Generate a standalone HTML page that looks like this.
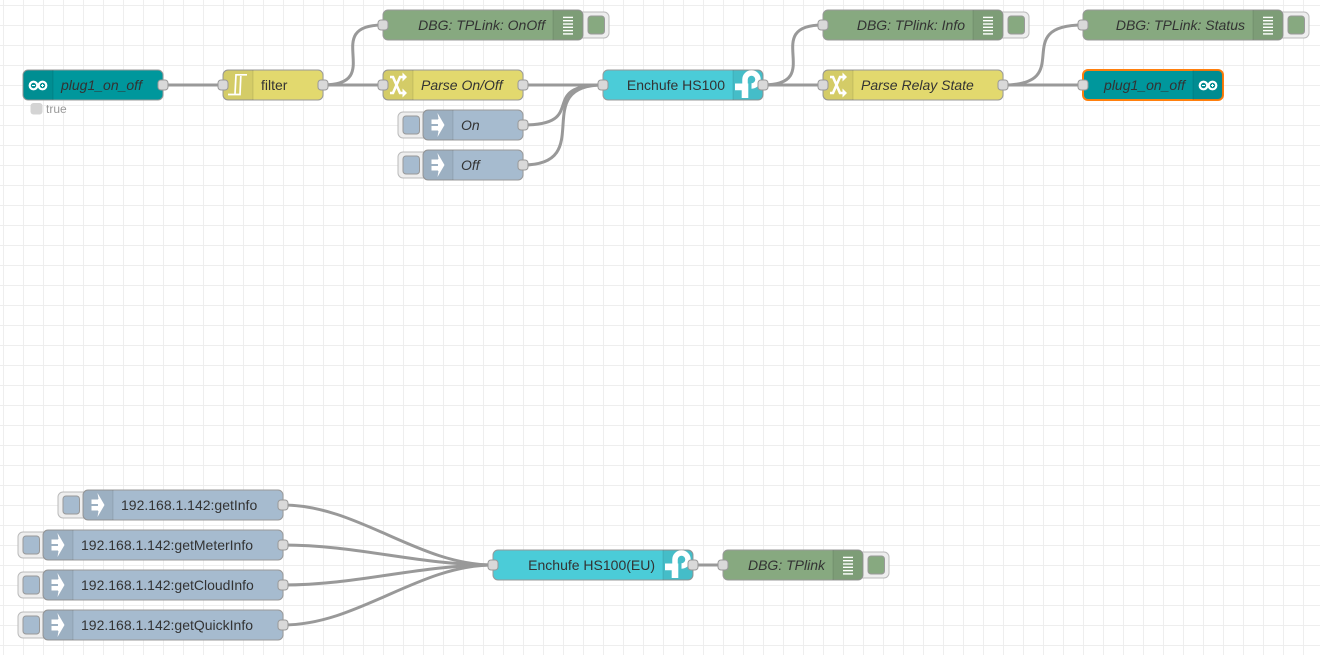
<!DOCTYPE html>
<html>
<head>
<meta charset="utf-8">
<style>
html,body{margin:0;padding:0;width:1320px;height:655px;overflow:hidden;background-color:#fff;
background-image:linear-gradient(#eee 1px,transparent 1px),linear-gradient(90deg,#eee 1px,transparent 1px);
background-size:20px 20px;background-position:0 5px,3px 0;}
svg{position:absolute;left:0;top:0;display:block}
text{font-family:"Liberation Sans",sans-serif;font-size:14px;fill:#333}
.i{font-style:italic}
.e{text-anchor:end}
.w{fill:none;stroke:#999;stroke-width:3}
.n{stroke:#999;stroke-width:1}
.p{fill:#d9d9d9;stroke:#999;stroke-width:1}
.b{fill:#eee;stroke:#bbb;stroke-width:1}
.ib{stroke:#999;stroke-width:1}
</style>
</head>
<body>
<svg width="1320" height="655" viewBox="0 0 1320 655" xmlns="http://www.w3.org/2000/svg">
<defs>
<g id="cl"><path d="M5 0H30V30H5A5 5 0 0 1 0 25V5A5 5 0 0 1 5 0Z" fill="#000" fill-opacity=".06"/><path d="M30 0V30" stroke="#000" stroke-opacity=".1"/></g>
<g id="cr"><path d="M-30 0H-5A5 5 0 0 1 0 5V25A5 5 0 0 1 -5 30H-30Z" fill="#000" fill-opacity=".07"/><path d="M-30 0V30" stroke="#000" stroke-opacity=".1"/></g>
<g id="inj" fill="#fff"><rect x="8.500" y="9.500" width="7" height="4.500"/><rect x="8.500" y="16" width="7" height="4.500"/><path d="M14.500 3L21.500 15L14.500 27L16.500 15Z"/><path d="M15 9H17.500V21H15Z"/></g>
<g id="fn" fill="none" stroke="#fff" stroke-width="2.600"><path d="M7 7H10L17 23H20"/><path d="M7 23H10L17 7H20"/><path d="M19.500 2.500L24 7L19.500 11.500Z" fill="#fff" stroke="none"/><path d="M19.500 18.500L24 23L19.500 27.500Z" fill="#fff" stroke="none"/></g>
<g id="flt" fill="none" stroke="#fff" stroke-width="1.700"><path d="M5 24.500H17L17.800 6"/><path d="M12 24L13 4.800H24"/></g>
<g id="ard" fill="none" stroke="#fff" stroke-width="2.200"><circle cx="10.500" cy="15.500" r="3.800"/><circle cx="19.500" cy="15.500" r="3.800"/><path d="M9 15.500H12M18 15.500H21M19.500 14V17" stroke-width="1"/></g>
<g id="dbg" fill="#fff"><rect x="-20" y="6.700" width="10" height="1.400"/><rect x="-20" y="10" width="10" height="1.400"/><rect x="-20" y="13.300" width="10" height="1.400"/><rect x="-20" y="16.600" width="10" height="1.400"/><rect x="-20" y="19.900" width="10" height="1.400"/><rect x="-20" y="23.200" width="10" height="1.400"/></g>
<g id="tp"><path d="M12 14V9.500A6.500 6.500 0 1 1 18.500 16" fill="none" stroke="#fff" stroke-width="5.500"/><path d="M2 13.500H15.300V28H8.700V20.300H2Z" fill="#fff"/></g>
</defs>

<!-- wires -->
<g class="w">
<path d="M163 85H223"/>
<path d="M323 85C386.750 85 319.250 25 383 25"/>
<path d="M323 85H383"/>
<path d="M523 85H603"/>
<path d="M523 125C590 125 536 85 603 85"/>
<path d="M523 165C598 165 528 85 603 85"/>
<path d="M763 85C826.750 85 759.250 25 823 25"/>
<path d="M763 85H823"/>
<path d="M1003 85C1078 85 1008 25 1083 25"/>
<path d="M1003 85H1083"/>
<path d="M283 505C358 505 418 565 493 565"/>
<path d="M283 545C358 545 418 565 493 565"/>
<path d="M283 585C358 585 418 565 493 565"/>
<path d="M283 625C358 625 418 565 493 565"/>
<path d="M693 565H723"/>
</g>

<!-- plug1_on_off in -->
<g transform="translate(23 70)"><rect class="n" width="140" height="30" rx="5" fill="#00979c"/><use href="#cl"/><use href="#ard"/><text class="i" x="38" y="20">plug1_on_off</text></g>
<rect x="30.500" y="103" width="12" height="11.500" rx="3" fill="#d4d4d4"/>
<text x="46" y="113" style="font-size:12px;fill:#999">true</text>

<!-- filter -->
<g transform="translate(223 70)"><rect class="n" width="100" height="30" rx="5" fill="#e2d96e"/><use href="#cl"/><use href="#flt"/><text x="38" y="20">filter</text></g>

<!-- DBG OnOff -->
<rect class="b" x="570" y="12" width="39" height="26" rx="5"/><rect class="ib" x="588" y="16" width="16.500" height="18" rx="3" fill="#87a980"/>
<g transform="translate(383 10)"><rect class="n" width="200" height="30" rx="5" fill="#87a980"/><use href="#cr" x="200"/><use href="#dbg" x="200"/><text class="i e" x="162" y="20">DBG: TPLink: OnOff</text></g>

<!-- Parse On/Off -->
<g transform="translate(383 70)"><rect class="n" width="140" height="30" rx="5" fill="#e2d96e"/><use href="#cl"/><use href="#fn"/><text class="i" x="38" y="20">Parse On/Off</text></g>

<!-- On -->
<rect class="b" x="398" y="112" width="39" height="26" rx="5"/><rect class="ib" x="403" y="116" width="16.500" height="18" rx="3" fill="#a6bbcf"/>
<g transform="translate(423 110)"><rect class="n" width="100" height="30" rx="5" fill="#a6bbcf"/><use href="#cl"/><use href="#inj"/><text class="i" x="38" y="20">On</text></g>

<!-- Off -->
<rect class="b" x="398" y="152" width="39" height="26" rx="5"/><rect class="ib" x="403" y="156" width="16.500" height="18" rx="3" fill="#a6bbcf"/>
<g transform="translate(423 150)"><rect class="n" width="100" height="30" rx="5" fill="#a6bbcf"/><use href="#cl"/><use href="#inj"/><text class="i" x="38" y="20">Off</text></g>

<!-- Enchufe HS100 -->
<g transform="translate(603 70)"><rect class="n" width="160" height="30" rx="5" fill="#4bccd8"/><use href="#cr" x="160"/><use href="#tp" x="130"/><text class="e" x="122" y="20">Enchufe HS100</text></g>

<!-- DBG Info -->
<rect class="b" x="990" y="12" width="39" height="26" rx="5"/><rect class="ib" x="1008" y="16" width="16.500" height="18" rx="3" fill="#87a980"/>
<g transform="translate(823 10)"><rect class="n" width="180" height="30" rx="5" fill="#87a980"/><use href="#cr" x="180"/><use href="#dbg" x="180"/><text class="i e" x="142" y="20">DBG: TPlink: Info</text></g>

<!-- Parse Relay State -->
<g transform="translate(823 70)"><rect class="n" width="180" height="30" rx="5" fill="#e2d96e"/><use href="#cl"/><use href="#fn"/><text class="i" x="38" y="20">Parse Relay State</text></g>

<!-- DBG Status -->
<rect class="b" x="1270" y="12" width="39" height="26" rx="5"/><rect class="ib" x="1288" y="16" width="16.500" height="18" rx="3" fill="#87a980"/>
<g transform="translate(1083 10)"><rect class="n" width="200" height="30" rx="5" fill="#87a980"/><use href="#cr" x="200"/><use href="#dbg" x="200"/><text class="i e" x="162" y="20">DBG: TPLink: Status</text></g>

<!-- plug1_on_off out -->
<g transform="translate(1083 70)"><rect width="140" height="30" rx="5" fill="#00979c" stroke="#ff7f0e" stroke-width="2"/><use href="#cr" x="140"/><use href="#ard" x="110"/><text class="i e" x="102" y="20">plug1_on_off</text></g>

<!-- injects bottom -->
<rect class="b" x="58" y="492" width="39" height="26" rx="5"/><rect class="ib" x="63" y="496" width="16.500" height="18" rx="3" fill="#a6bbcf"/>
<g transform="translate(83 490)"><rect class="n" width="200" height="30" rx="5" fill="#a6bbcf"/><use href="#cl"/><use href="#inj"/><text x="38" y="20">192.168.1.142:getInfo</text></g>

<rect class="b" x="18" y="532" width="39" height="26" rx="5"/><rect class="ib" x="23" y="536" width="16.500" height="18" rx="3" fill="#a6bbcf"/>
<g transform="translate(43 530)"><rect class="n" width="240" height="30" rx="5" fill="#a6bbcf"/><use href="#cl"/><use href="#inj"/><text x="38" y="20">192.168.1.142:getMeterInfo</text></g>

<rect class="b" x="18" y="572" width="39" height="26" rx="5"/><rect class="ib" x="23" y="576" width="16.500" height="18" rx="3" fill="#a6bbcf"/>
<g transform="translate(43 570)"><rect class="n" width="240" height="30" rx="5" fill="#a6bbcf"/><use href="#cl"/><use href="#inj"/><text x="38" y="20">192.168.1.142:getCloudInfo</text></g>

<rect class="b" x="18" y="612" width="39" height="26" rx="5"/><rect class="ib" x="23" y="616" width="16.500" height="18" rx="3" fill="#a6bbcf"/>
<g transform="translate(43 610)"><rect class="n" width="240" height="30" rx="5" fill="#a6bbcf"/><use href="#cl"/><use href="#inj"/><text x="38" y="20">192.168.1.142:getQuickInfo</text></g>

<!-- Enchufe EU -->
<g transform="translate(493 550)"><rect class="n" width="200" height="30" rx="5" fill="#4bccd8"/><use href="#cr" x="200"/><use href="#tp" x="170"/><text class="e" x="162" y="20">Enchufe HS100(EU)</text></g>

<!-- DBG TPlink -->
<rect class="b" x="850" y="552" width="39" height="26" rx="5"/><rect class="ib" x="868" y="556" width="16.500" height="18" rx="3" fill="#87a980"/>
<g transform="translate(723 550)"><rect class="n" width="140" height="30" rx="5" fill="#87a980"/><use href="#cr" x="140"/><use href="#dbg" x="140"/><text class="i e" x="102" y="20">DBG: TPlink</text></g>

<!-- ports -->
<g class="p">
<rect x="158" y="80" width="10" height="10" rx="3"/>
<rect x="218" y="80" width="10" height="10" rx="3"/>
<rect x="318" y="80" width="10" height="10" rx="3"/>
<rect x="378" y="20" width="10" height="10" rx="3"/>
<rect x="378" y="80" width="10" height="10" rx="3"/>
<rect x="518" y="80" width="10" height="10" rx="3"/>
<rect x="518" y="120" width="10" height="10" rx="3"/>
<rect x="518" y="160" width="10" height="10" rx="3"/>
<rect x="598" y="80" width="10" height="10" rx="3"/>
<rect x="758" y="80" width="10" height="10" rx="3"/>
<rect x="818" y="20" width="10" height="10" rx="3"/>
<rect x="818" y="80" width="10" height="10" rx="3"/>
<rect x="998" y="80" width="10" height="10" rx="3"/>
<rect x="1078" y="20" width="10" height="10" rx="3"/>
<rect x="1078" y="80" width="10" height="10" rx="3"/>
<rect x="278" y="500" width="10" height="10" rx="3"/>
<rect x="278" y="540" width="10" height="10" rx="3"/>
<rect x="278" y="580" width="10" height="10" rx="3"/>
<rect x="278" y="620" width="10" height="10" rx="3"/>
<rect x="488" y="560" width="10" height="10" rx="3"/>
<rect x="688" y="560" width="10" height="10" rx="3"/>
<rect x="718" y="560" width="10" height="10" rx="3"/>
</g>
</svg>
</body>
</html>
